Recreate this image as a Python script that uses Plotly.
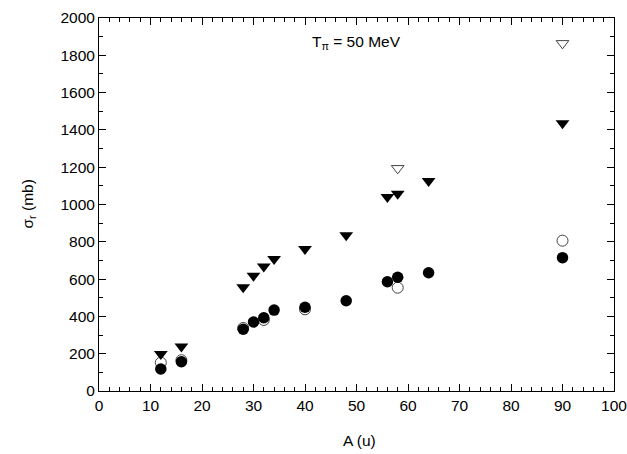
import plotly.graph_objects as go

A_filled_circle = [12, 16, 28, 30, 32, 34, 40, 48, 56, 58, 64, 90]
sig_filled_circle = [118, 157, 331, 370, 393, 434, 449, 484, 586, 610, 634, 715]

A_open_circle = [12, 16, 28, 32, 40, 58, 90]
sig_open_circle = [152, 165, 338, 381, 438, 554, 806]

A_filled_tri = [12, 16, 28, 30, 32, 34, 40, 48, 56, 58, 64, 90]
sig_filled_tri = [198, 238, 556, 618, 667, 708, 761, 835, 1040, 1058, 1126, 1435]

A_open_tri = [58, 90]
sig_open_tri = [1194, 1864]

FONT = "Liberation Sans, Arial, sans-serif"
FS = 15.5

fig = go.Figure()
fig.add_trace(go.Scatter(x=A_open_circle, y=sig_open_circle, mode="markers",
                         marker=dict(symbol="circle-open", size=11, color="#444444", line=dict(width=1))))
fig.add_trace(go.Scatter(x=A_filled_circle, y=sig_filled_circle, mode="markers",
                         marker=dict(symbol="circle", size=11.5, color="black", line=dict(width=0))))
fig.add_trace(go.Scatter(x=A_open_tri, y=sig_open_tri, mode="markers",
                         marker=dict(symbol="triangle-down-open", size=11, color="#444444", line=dict(width=1))))
fig.add_trace(go.Scatter(x=A_filled_tri, y=sig_filled_tri, mode="markers",
                         marker=dict(symbol="triangle-down", size=12, color="black", line=dict(width=0))))

axis_common = dict(
    showgrid=False, zeroline=False, showline=True, linecolor="black", linewidth=1,
    mirror="allticks", ticks="inside", ticklen=7, tickwidth=1, tickcolor="black",
    tickfont=dict(family=FONT, size=FS, color="black"), automargin=False,
    ticklabeloverflow="allow",
)

fig.update_xaxes(range=[0, 100], dtick=10, tick0=0,
                 minor=dict(dtick=2, ticks="inside", ticklen=4, tickcolor="black", showgrid=False),
                 **axis_common)
fig.update_yaxes(range=[0, 2000], dtick=200, tick0=0,
                 minor=dict(dtick=100, ticks="inside", ticklen=4, tickcolor="black", showgrid=False),
                 **axis_common)

fig.add_annotation(x=0.505, y=0, xref="paper", yref="paper", xanchor="center", yanchor="middle",
                   yshift=-49, text="A (u)", showarrow=False,
                   font=dict(family=FONT, size=FS, color="black"))
fig.add_annotation(x=0, y=0.5, xref="paper", yref="paper", xanchor="center", yanchor="middle",
                   xshift=-71, textangle=-90, text="σ<sub>r</sub> (mb)", showarrow=False,
                   font=dict(family=FONT, size=FS, color="black"))

fig.add_annotation(x=41, y=1870, xref="x", yref="y", xanchor="left", yanchor="middle",
                   text="T<sub>π</sub> = 50 MeV", showarrow=False,
                   font=dict(family=FONT, size=FS, color="black"))

fig.update_layout(width=627, height=454, showlegend=False,
                  margin=dict(l=99, r=13, t=18, b=63),
                  plot_bgcolor="white", paper_bgcolor="white")

fig.write_html("out.html", config={"displayModeBar": False},
               post_script="document.body.style.margin='0';document.body.style.overflow='hidden';")
